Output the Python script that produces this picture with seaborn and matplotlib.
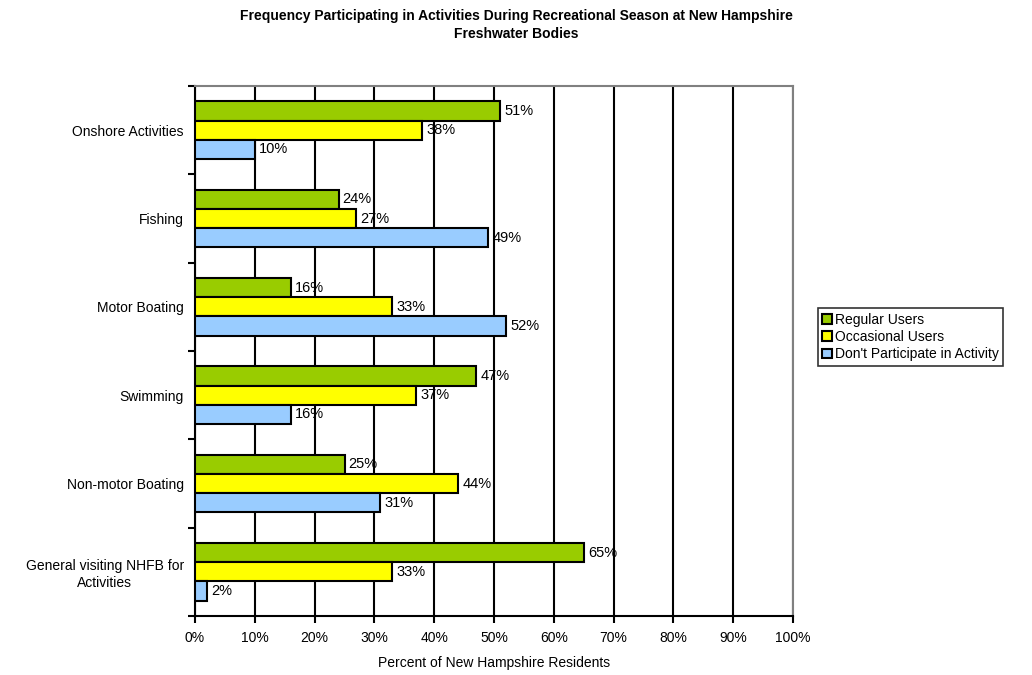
import matplotlib
matplotlib.use("Agg")
import matplotlib.pyplot as plt
import seaborn as sns
import pandas as pd
import numpy as np
from matplotlib.ticker import FixedLocator

categories = ["Onshore Activities", "Fishing", "Motor Boating", "Swimming",
              "Non-motor Boating", "General visiting NHFB for\nActivities"]
series = ["Regular Users", "Occasional Users", "Don't Participate in Activity"]
regular = [51, 24, 16, 47, 25, 65]
occasional = [38, 27, 33, 37, 44, 33]
dont = [10, 49, 52, 16, 31, 2]
x_ticks = [0, 10, 20, 30, 40, 50, 60, 70, 80, 90, 100]
colors = ["#99CC00", "#FFFF00", "#99CCFF"]

rows = []
for s, vals in zip(series, [regular, occasional, dont]):
    for c, v in zip(categories, vals):
        rows.append({"Activity": c, "Group": s, "Value": v})
df = pd.DataFrame(rows)

sns.set_style("white")
plt.rcParams["font.family"] = ["Liberation Sans", "DejaVu Sans"]
plt.rcParams["text.color"] = "black"
plt.rcParams["axes.labelcolor"] = "black"
plt.rcParams["xtick.color"] = "black"
plt.rcParams["ytick.color"] = "black"

fig = plt.figure(figsize=(10.32, 6.75), dpi=100)
ax = fig.add_axes([195/1032, 1-616/675, (793-195)/1032, (616-86)/675])

sns.barplot(data=df, y="Activity", x="Value", hue="Group", order=categories,
            hue_order=series, palette=colors, saturation=1, orient="h", width=0.65,
            edgecolor="black", linewidth=1.5, ax=ax, legend=True, zorder=3)

for cont in ax.containers:
    ax.bar_label(cont, labels=[f"{v:.0f}%" for v in cont.datavalues],
                 padding=3, fontsize=10.5, color="black")

ax.set_xlim(0, 100)
ax.set_ylim(len(categories) - 0.5, -0.5)
ax.set_xticks(x_ticks)
ax.set_xticklabels([f"{t}%" for t in x_ticks], fontsize=10)
ax.set_yticks(range(len(categories)))
ax.set_yticklabels(categories, fontsize=10, ha="right", multialignment="center")
ax.tick_params(axis="y", which="major", left=True, length=0, pad=8)
ax.yaxis.set_minor_locator(FixedLocator(np.arange(-0.5, len(categories), 1.0)))
ax.tick_params(axis="y", which="minor", left=True, length=5, width=1.5, color="black", direction="out")
ax.tick_params(axis="x", which="major", bottom=True, length=5, width=1.5, color="black", direction="out", pad=6)
ax.set_ylabel("")
ax.set_xlabel("Percent of New Hampshire Residents", fontsize=10, labelpad=8)

ax.xaxis.grid(True, color="black", linewidth=1.5, zorder=0)
ax.set_axisbelow(True)
for side in ["left", "bottom"]:
    ax.spines[side].set_color("black")
    ax.spines[side].set_linewidth(1.5)
for side in ["top", "right"]:
    ax.spines[side].set_visible(True)
    ax.spines[side].set_color("#808080")
    ax.spines[side].set_linewidth(1.5)

leg = ax.legend(loc="center left", bbox_to_anchor=(818/1032, 1-337/675),
                bbox_transform=fig.transFigure, frameon=True, fancybox=False,
                edgecolor="black", fontsize=10, handlelength=0.7, handleheight=0.7,
                handletextpad=0.2, borderpad=0.3, labelspacing=0.25, borderaxespad=0)
leg.get_frame().set_linewidth(1.2)

fig.suptitle("Frequency Participating in Activities During Recreational Season at New Hampshire\nFreshwater Bodies",
             fontsize=10, fontweight="bold", y=1-9/675, va="top", color="black",
             linespacing=1.35)

fig.savefig("out.png", dpi=100, facecolor="white")
